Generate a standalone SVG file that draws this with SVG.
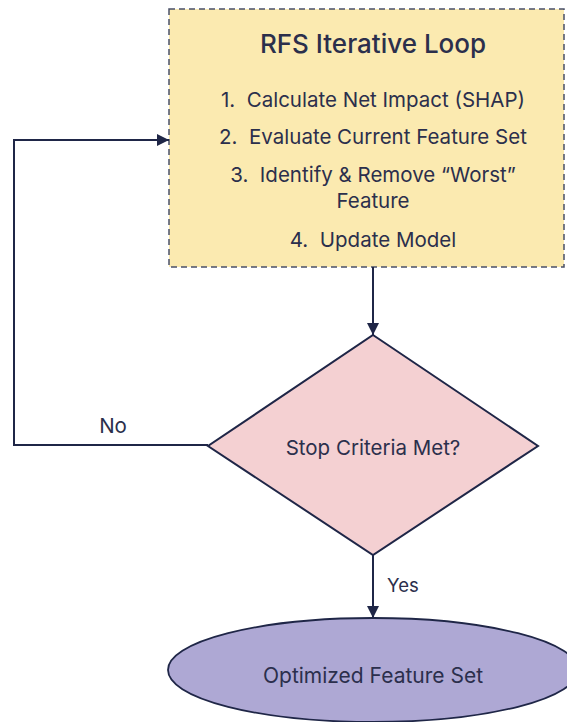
<svg xmlns="http://www.w3.org/2000/svg" width="567" height="722" viewBox="0 0 567 722">
  <style>
    .t { font-family: "Inter", "Liberation Sans", sans-serif; fill: #2b2f4c; text-anchor: middle; white-space: pre; }
    .edge { fill: none; stroke: #1f2647; stroke-width: 2; }
  </style>
  <defs>
    <marker id="arr" viewBox="0 0 10 10" refX="10" refY="5" markerWidth="6" markerHeight="6" orient="auto" markerUnits="strokeWidth">
      <path d="M0,0 L10,5 L0,10 z" fill="#1f2647"/>
    </marker>
  </defs>
  <rect width="567" height="722" fill="#ffffff"/>

  <g id="loop">
    <rect x="169" y="9" width="395" height="258" fill="#fbeab0" stroke="#4a5068" stroke-width="1.5" stroke-dasharray="6,4"/>
    <text class="t" x="373" y="53" font-size="26" font-weight="500">RFS Iterative Loop</text>
    <text class="t" x="373" y="107" font-size="20.5">1.  Calculate Net Impact (SHAP)</text>
    <text class="t" x="373" y="144" font-size="20.5">2.  Evaluate Current Feature Set</text>
    <text class="t" x="373" y="182" font-size="20.5">3.  Identify &amp; Remove “Worst”</text>
    <text class="t" x="373" y="208" font-size="20.5">Feature</text>
    <text class="t" x="373" y="247" font-size="20.5">4.  Update Model</text>
  </g>

  <g id="decision">
    <polygon points="373,335 538,446 373,555 208,446" fill="#f4d0d2" stroke="#1f2647" stroke-width="2"/>
    <text class="t" x="373" y="455" font-size="20.5">Stop Criteria Met?</text>
  </g>

  <g id="result">
    <ellipse cx="373" cy="670" rx="205" ry="52" fill="#aea8d4" stroke="#1f2647" stroke-width="1.8"/>
    <text class="t" x="373" y="683" font-size="21">Optimized Feature Set</text>
  </g>

  <g id="connectors">
    <path class="edge" d="M373,267 L373,335" marker-end="url(#arr)"/>
    <path class="edge" d="M373,555 L373,618" marker-end="url(#arr)"/>
    <path class="edge" d="M208,445 L14,445 L14,140 L169,140" marker-end="url(#arr)"/>
    <text class="t" x="113" y="433" font-size="20.5">No</text>
    <text class="t" x="387" y="592" font-size="18.5" style="text-anchor:start">Yes</text>
  </g>
</svg>
